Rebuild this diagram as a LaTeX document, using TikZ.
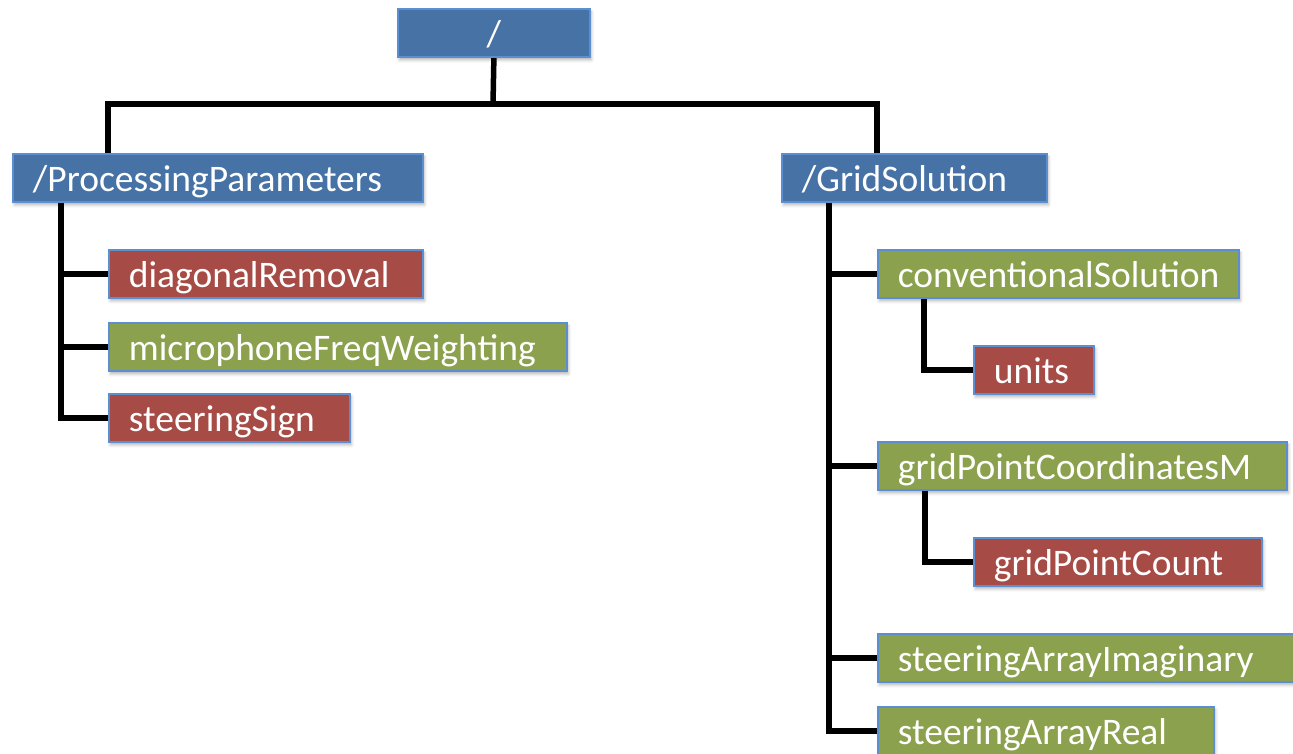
\documentclass[tikz,border=0pt]{standalone}
\usepackage{fontspec}
\setmainfont{Carlito}
\usetikzlibrary{backgrounds,shadows.blur}
\hyphenpenalty=10000
\exhyphenpenalty=10000
\definecolor{hdrblue}{RGB}{70,114,165}
\definecolor{leafred}{RGB}{166,75,69}
\definecolor{leafgreen}{RGB}{139,161,77}
\definecolor{edgeblue}{RGB}{92,142,210}
\tikzset{
  box/.style={draw=edgeblue, line width=1.8pt, anchor=north west,
    minimum height=48pt, inner xsep=20pt, inner ysep=0pt,
    text height=38pt, text depth=10pt, align=left, text=white,
    font=\fontsize{37.5}{44}\selectfont,
    blur shadow={shadow xshift=1.5pt, shadow yshift=-3pt,
      shadow blur radius=3pt, shadow opacity=30}},
  grp/.style={box, fill=hdrblue},
  redbox/.style={box, fill=leafred},
  greenbox/.style={box, fill=leafgreen},
  conn/.style={draw=black, line width=5.5pt, line join=miter}
}
\begin{document}
\begin{tikzpicture}[x=1pt, y=-1pt]
  \useasboundingbox (0,0) rectangle (1293,754);

  % group nodes
  \node[grp, text width=152pt, align=center] (root) at (397,8) {/};
  \node[grp, text width=370pt] (pp) at (12,153) {/ProcessingParameters};
  \node[grp, text width=225pt] (gs) at (781,153) {/GridSolution};

  % datasets under /ProcessingParameters
  \node[redbox, text width=274pt] (dr) at (108,249) {diagonalRemoval};
  \node[greenbox, text width=418pt] (mf) at (108,322) {microphoneFreqWeighting};
  \node[redbox, text width=201pt] (ss) at (108,393) {steeringSign};

  % datasets under /GridSolution
  \node[greenbox, text width=321pt] (cs) at (877,249) {conventionalSolution};
  \node[redbox, text width=80pt] (un) at (973,345) {units};
  \node[greenbox, text width=369pt] (gc) at (877,441) {gridPointCoordinatesM};
  \node[redbox, text width=248pt] (gp) at (973,537) {gridPointCount};
  \node[greenbox, text width=400pt] (sai) at (877,633) {steeringArrayImaginary};
  \node[greenbox, text width=296pt] (sar) at (877,706) {steeringArrayReal};

  \begin{scope}[on background layer]
    % root to the two groups
    \coordinate (bus) at (493,104);
    \draw[conn] (root.south) -- (bus);
    \draw[conn] ([xshift=96pt]pp.north west) |- (bus) -| ([xshift=96pt]gs.north west);

    % /ProcessingParameters trunk
    \coordinate (ppk) at ([xshift=49pt]pp.south west);
    \draw[conn] (ppk) |- (ss.west);
    \draw[conn] (dr.west) -- (dr.west -| ppk);
    \draw[conn] (mf.west) -- (mf.west -| ppk);

    % /GridSolution trunk
    \coordinate (gsk) at ([xshift=48pt]gs.south west);
    \draw[conn] (gsk) |- (sar.west);
    \draw[conn] (cs.west) -- (cs.west -| gsk);
    \draw[conn] (gc.west) -- (gc.west -| gsk);
    \draw[conn] (sai.west) -- (sai.west -| gsk);

    % attributes
    \draw[conn] ([xshift=47pt]cs.south west) |- (un.west);
    \draw[conn] ([xshift=48pt]gc.south west) |- (gp.west);
  \end{scope}
\end{tikzpicture}
\end{document}
